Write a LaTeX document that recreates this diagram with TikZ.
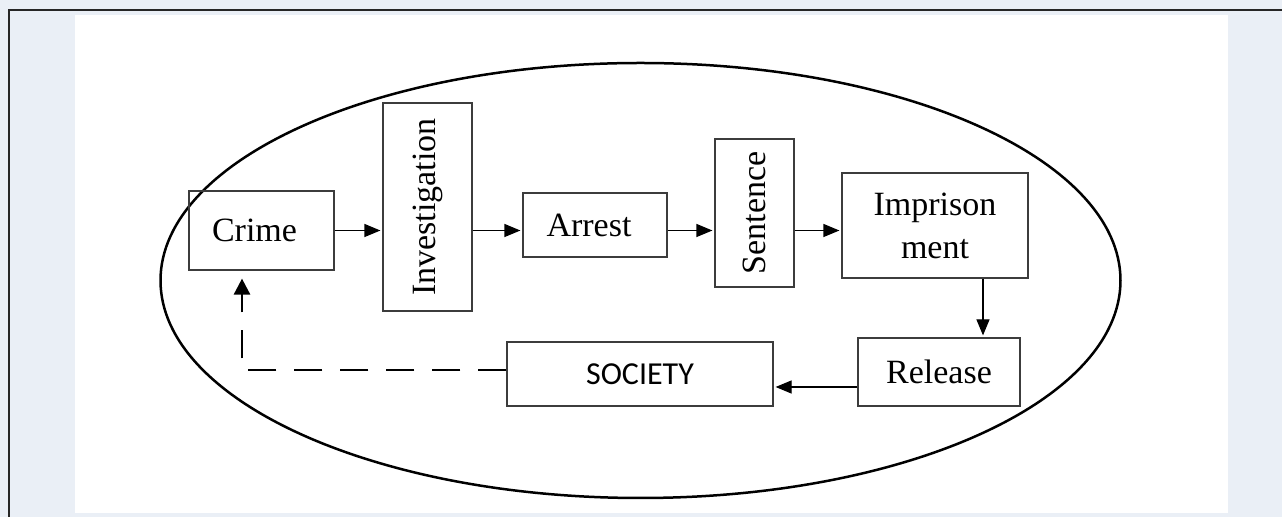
\documentclass[tikz,border=0pt]{standalone}
\usepackage{fontspec}
\setmainfont{Liberation Serif}
\newfontfamily\calibrifont{Carlito}
\usetikzlibrary{arrows.meta}
\definecolor{pagebg}{RGB}{234,239,246}
\definecolor{boxline}{RGB}{60,60,60}

\begin{document}
\begin{tikzpicture}[x=0.5pt,y=-0.5pt,
	every node/.style={font=\fontsize{17}{21.5}\selectfont, inner sep=0pt},
	box/.style={draw=boxline, line width=0.6pt, align=center},
	arr/.style={line width=0.6pt, -{Triangle[length=8pt,width=6.5pt]}, shorten >=1pt}]
	\useasboundingbox (0,0) rectangle (1282,517);
	\fill[pagebg] (0,0) rectangle (1282,517);
	\fill[white] (75,15) rectangle (1228,513);
	\draw[black!85, line width=1.1pt] (9,517) -- (9,10) -- (1282,10);
	\draw[line width=1.25pt] (640.5,280.5) ellipse [x radius=240pt, y radius=108.75pt];
	\node[box, minimum width=72.5pt, minimum height=39.5pt] (crime) at (261.5,230.5) {Crime\hspace{7pt}};
	\node[box, minimum width=44.5pt, minimum height=104pt] (invest) at (427.5,207) {\rotatebox{90}{Investigation}};
	\node[box, minimum width=72pt, minimum height=32pt] (arrest) at (595,225) {Arrest\hspace{6pt}};
	\node[box, minimum width=39.5pt, minimum height=74pt] (sentence) at (754.5,213) {\rotatebox{90}{Sentence}};
	\node[box, minimum width=93pt, minimum height=52.5pt] (prison) at (935,225.5) {Imprison\\ment};
	\node[box, minimum width=81pt, minimum height=34pt] (release) at (939,372) {Release};
	\node[box, minimum width=133pt, minimum height=32pt, font=\calibrifont\fontsize{16}{19}\selectfont] (society) at (640,374) {SOCIETY};
	\foreach \a/\b in {crime/invest,invest/arrest,arrest/sentence,sentence/prison}
		\draw[arr] (\a.east |- crime.east) -- (\b.west |- crime.east);
	\draw[arr] ([xshift=24pt]prison.south) -- ([xshift=24pt]prison.south |- release.north);
	\draw[arr] ([yshift=-7.5pt]release.west) -- ([yshift=-7.5pt]release.west -| society.east);
	\draw[line width=1.3pt, dash pattern=on 14pt off 9pt, -{Triangle[length=8pt,width=8pt]}, shorten >=4pt] ([yshift=2pt]society.west) -| ([xshift=-9.75pt]crime.south);
\end{tikzpicture}
\end{document}
